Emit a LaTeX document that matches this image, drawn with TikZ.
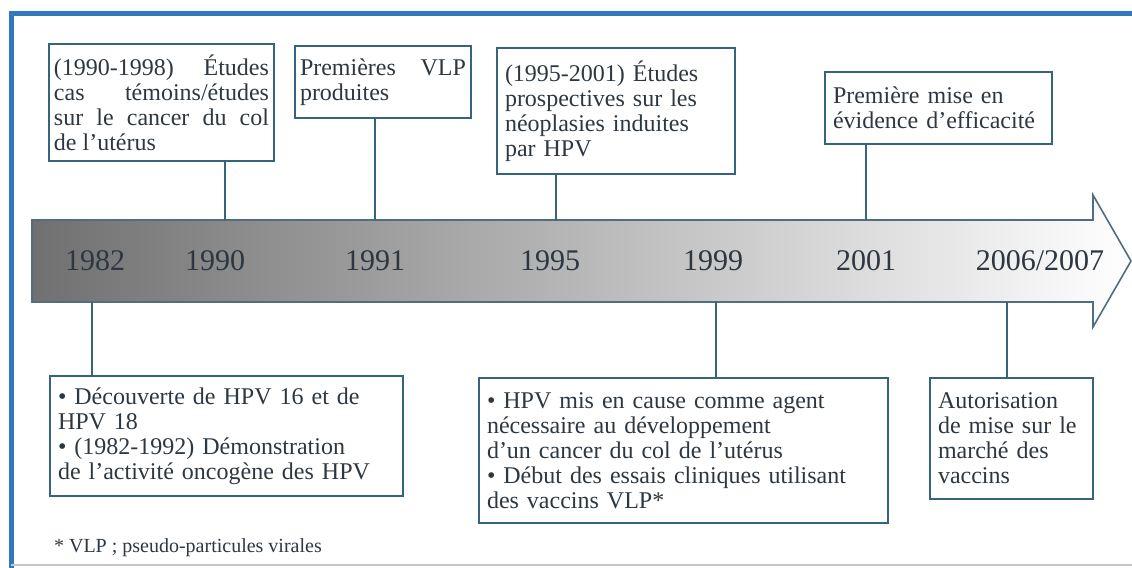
\documentclass[tikz,border=0pt]{standalone}
\usepackage{fontspec}
\setmainfont{Liberation Serif}
\definecolor{framecol}{RGB}{50,120,190}
\definecolor{boxline}{RGB}{55,100,125}
\definecolor{arrowline}{RGB}{80,110,125}
\definecolor{ink}{RGB}{45,55,65}

\begin{document}
\begin{tikzpicture}[x=0.5pt,y=-0.5pt,
    event/.style={draw=boxline,line width=1pt,anchor=north west,inner xsep=4pt,
      inner ysep=0pt,align=left,text=ink,font=\fontsize{12}{12.5}\selectfont},
    justified/.style={align=justify,inner xsep=2.5pt,
      execute at begin node={\tolerance=10000\relax}},
    yearlbl/.style={text=ink,font=\fontsize{15}{18}\selectfont},
    tick/.style={draw=boxline,line width=0.8pt}]

  \useasboundingbox (0,0) rectangle (1132,568);

  % frame
  \draw[framecol,line width=2.5pt] (11,568) -- (11,13) -- (1132,13);
  \draw[gray!45,line width=0.6pt] (11,565) -- (1132,565);

  % time arrow
  \draw[arrowline,line width=0.8pt,left color=black!56,right color=white]
    (32,220) -- (1093,220) -- (1093,195) -- (1131,261) -- (1093,327)
    -- (1093,302) -- (32,302) -- cycle;

  \node[yearlbl] (y82) at (95,261) {1982};
  \node[yearlbl] (y90) at (215,261) {1990};
  \node[yearlbl] (y91) at (375,261) {1991};
  \node[yearlbl] (y95) at (550,261) {1995};
  \node[yearlbl] (y99) at (713,261) {1999};
  \node[yearlbl] (y01) at (866,261) {2001};
  \node[yearlbl] (y06) at (1040,261) {2006/2007};

  \coordinate (c90) at (225,220);
  \coordinate (c91) at (375,220);
  \coordinate (c95) at (556,220);
  \coordinate (c01) at (866,220);
  \coordinate (c82) at (92,302);
  \coordinate (c99) at (716,302);
  \coordinate (c06) at (1007,302);

  \node[event,justified,text width=107.5pt,minimum height=58.5pt] (b90) at (48,43)
    {(1990-1998) Études\linebreak cas témoins/études\linebreak sur le cancer du col\linebreak de l’utérus};
  \node[event,justified,text width=83pt,minimum height=36pt] (b91) at (294,45)
    {Premières VLP\linebreak produites};
  \node[event,text width=111pt,minimum height=63pt] (b95) at (496,47)
    {(1995-2001) Études\\prospectives sur les\\néoplasies induites\\par HPV};
  \node[event,text width=105.5pt,minimum height=36pt] (b01) at (824,71)
    {Première mise en\\évidence d’efficacité};
  \node[event,text width=168.5pt,minimum height=60pt] (b82) at (49,375)
    {• Découverte de HPV 16 et de\\HPV 18\\• (1982-1992) Démonstration\\de l’activité oncogène des HPV};
  \node[event,text width=196.5pt,minimum height=72.5pt] (b99) at (478,377)
    {• HPV mis en cause comme agent\\nécessaire au développement\\d’un cancer du col de l’utérus\\• Début des essais cliniques utilisant\\des vaccins VLP*};
  \node[event,text width=73.5pt,minimum height=60.5pt] (b06) at (929,377)
    {Autorisation\\de mise sur le\\marché des\\vaccins};

  \node[anchor=base west,text=ink,font=\fontsize{10}{12}\selectfont] (note) at (47,552)
    {* VLP ; pseudo-particules virales};

  \draw[tick]
  (b90.south -| c90) edge (c90)
  (b91.south -| c91) edge (c91)
  (b95.south -| c95) edge (c95)
  (b01.south -| c01) edge (c01)
  (c82) edge (b82.north -| c82)
  (c99) edge (b99.north -| c99)
  (c06) edge (b06.north -| c06);

\end{tikzpicture}
\end{document}
